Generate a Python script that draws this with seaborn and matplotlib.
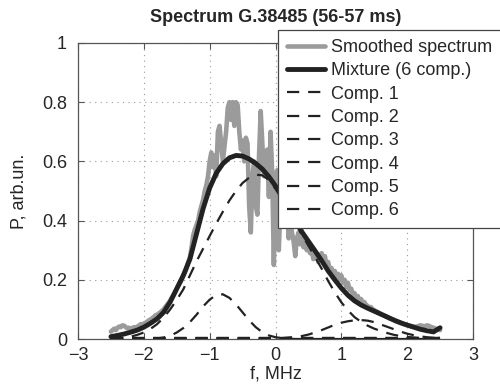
import numpy as np
import pandas as pd
import matplotlib
matplotlib.use("Agg")
import matplotlib.pyplot as plt
import seaborn as sns

# ---------------- data ----------------
# smoothed spectrum, sampled every 0.025 MHz from -2.5 to 2.5
p_spec = [
    0.025, 0.030, 0.035, 0.030, 0.038, 0.042, 0.040, 0.046,
    0.045, 0.040, 0.036, 0.038, 0.035, 0.037, 0.040, 0.038,
    0.042, 0.045, 0.050, 0.048, 0.052, 0.055, 0.058, 0.063,
    0.066, 0.070, 0.074, 0.080, 0.082, 0.086, 0.090, 0.095,
    0.100, 0.108, 0.115, 0.122, 0.130, 0.140, 0.148, 0.158,
    0.170, 0.180, 0.190, 0.200, 0.215, 0.225, 0.240, 0.260,
    0.275, 0.310, 0.350, 0.370, 0.385, 0.400, 0.430, 0.450,
    0.470, 0.500, 0.520, 0.550, 0.600, 0.630, 0.580, 0.620,
    0.550, 0.700, 0.720, 0.660, 0.600, 0.650, 0.700, 0.780,
    0.800, 0.740, 0.800, 0.720, 0.800, 0.790, 0.700, 0.640,
    0.670, 0.600, 0.680, 0.660, 0.450, 0.360, 0.550, 0.600,
    0.450, 0.420, 0.620, 0.770, 0.660, 0.550, 0.600, 0.640,
    0.480, 0.700, 0.560, 0.250, 0.530, 0.570, 0.300, 0.450,
    0.400, 0.500, 0.380, 0.450, 0.340, 0.400, 0.360, 0.330,
    0.280, 0.340, 0.360, 0.320, 0.340, 0.310, 0.330, 0.300,
    0.320, 0.290, 0.300, 0.270, 0.280, 0.290, 0.260, 0.280,
    0.290, 0.270, 0.280, 0.250, 0.260, 0.230, 0.240, 0.220,
    0.230, 0.210, 0.220, 0.200, 0.215, 0.190, 0.200, 0.175,
    0.190, 0.165, 0.170, 0.150, 0.155, 0.140, 0.145, 0.130,
    0.135, 0.120, 0.125, 0.115, 0.112, 0.105, 0.108, 0.100,
    0.098, 0.094, 0.092, 0.088, 0.085, 0.082, 0.080, 0.076,
    0.074, 0.070, 0.068, 0.066, 0.063, 0.060, 0.058, 0.056,
    0.054, 0.052, 0.050, 0.049, 0.047, 0.046, 0.044, 0.043,
    0.042, 0.041, 0.042, 0.044, 0.046, 0.045, 0.043, 0.044,
    0.046, 0.045, 0.042, 0.040, 0.038, 0.036, 0.034, 0.032,
    0.030,
]
f_spec = np.linspace(-2.5, 2.5, len(p_spec))

# model curves, sampled every 0.1 MHz from -2.5 to 2.5
mixture = [
    0.008, 0.012, 0.017, 0.023, 0.030, 0.040, 0.053, 0.068,
    0.090, 0.125, 0.170, 0.215, 0.270, 0.355, 0.440, 0.510,
    0.560, 0.592, 0.612, 0.620, 0.618, 0.608, 0.593, 0.574,
    0.548, 0.517, 0.487, 0.452, 0.410, 0.362, 0.330, 0.298,
    0.265, 0.230, 0.200, 0.172, 0.148, 0.129, 0.115, 0.104,
    0.094, 0.084, 0.074, 0.064, 0.055, 0.047, 0.040, 0.033,
    0.028, 0.024, 0.038,
]
comp1 = [
    0.001, 0.002, 0.004, 0.008, 0.014, 0.022, 0.034, 0.050,
    0.072, 0.100, 0.132, 0.168, 0.215, 0.262, 0.305, 0.348,
    0.390, 0.430, 0.468, 0.500, 0.527, 0.545, 0.555, 0.553,
    0.537, 0.507, 0.472, 0.432, 0.392, 0.352, 0.315, 0.277,
    0.238, 0.196, 0.158, 0.124, 0.097, 0.074, 0.058, 0.045,
    0.035, 0.027, 0.020, 0.014, 0.010, 0.007, 0.005, 0.003,
    0.002, 0.001, 0.001,
]
comp2 = [
    0.000, 0.000, 0.000, 0.000, 0.000, 0.001, 0.001, 0.002,
    0.005, 0.011, 0.022, 0.037, 0.057, 0.082, 0.110, 0.133,
    0.149, 0.151, 0.139, 0.117, 0.090, 0.063, 0.040, 0.023,
    0.012, 0.006, 0.003, 0.001, 0.000, 0.000, 0.000, 0.000,
    0.000, 0.000, 0.000, 0.000, 0.000, 0.000, 0.000, 0.000,
    0.000, 0.000, 0.000, 0.000, 0.000, 0.000, 0.000, 0.000,
    0.000, 0.000, 0.000,
]
comp3 = [
    0.000, 0.000, 0.000, 0.000, 0.000, 0.000, 0.000, 0.000,
    0.000, 0.000, 0.000, 0.000, 0.000, 0.000, 0.000, 0.000,
    0.000, 0.000, 0.000, 0.000, 0.000, 0.000, 0.001, 0.001,
    0.001, 0.002, 0.003, 0.005, 0.007, 0.010, 0.015, 0.022,
    0.030, 0.039, 0.048, 0.055, 0.060, 0.063, 0.064, 0.062,
    0.057, 0.049, 0.041, 0.033, 0.025, 0.018, 0.013, 0.009,
    0.006, 0.004, 0.003,
]
comp4 = [
    0.003, 0.003, 0.003, 0.003, 0.003, 0.003, 0.003, 0.003,
    0.003, 0.003, 0.003, 0.003, 0.003, 0.003, 0.003, 0.003,
    0.003, 0.003, 0.003, 0.003, 0.003, 0.003, 0.003, 0.003,
    0.003, 0.003, 0.003, 0.003, 0.003, 0.003, 0.003, 0.003,
    0.003, 0.003, 0.003, 0.003, 0.003, 0.003, 0.003, 0.003,
    0.003, 0.003, 0.003, 0.003, 0.003, 0.003, 0.003, 0.003,
    0.003, 0.003, 0.003,
]
comp5 = [
    0.002, 0.002, 0.002, 0.002, 0.002, 0.002, 0.002, 0.002,
    0.002, 0.002, 0.002, 0.002, 0.002, 0.002, 0.002, 0.002,
    0.002, 0.002, 0.002, 0.002, 0.002, 0.002, 0.002, 0.002,
    0.002, 0.002, 0.002, 0.002, 0.002, 0.002, 0.002, 0.002,
    0.002, 0.002, 0.002, 0.002, 0.002, 0.002, 0.002, 0.002,
    0.002, 0.002, 0.002, 0.002, 0.002, 0.002, 0.002, 0.002,
    0.002, 0.002, 0.002,
]
comp6 = [
    0.001, 0.001, 0.001, 0.001, 0.001, 0.001, 0.001, 0.001,
    0.001, 0.001, 0.001, 0.001, 0.001, 0.001, 0.001, 0.001,
    0.001, 0.001, 0.001, 0.001, 0.001, 0.001, 0.001, 0.001,
    0.001, 0.001, 0.001, 0.001, 0.001, 0.001, 0.001, 0.001,
    0.001, 0.001, 0.001, 0.001, 0.001, 0.001, 0.001, 0.001,
    0.001, 0.001, 0.001, 0.001, 0.001, 0.001, 0.001, 0.001,
    0.001, 0.002, 0.004,
]
f_model = np.linspace(-2.5, 2.5, len(mixture))

comp_names = ["Comp. 1", "Comp. 2", "Comp. 3", "Comp. 4", "Comp. 5", "Comp. 6"]
comps = [comp1, comp2, comp3, comp4, comp5, comp6]

x_ticks = [-3, -2, -1, 0, 1, 2, 3]
y_ticks = [0, 0.2, 0.4, 0.6, 0.8, 1.0]
y_tick_labels = ["0", "0.2", "0.4", "0.6", "0.8", "1"]

title = "Spectrum G.38485 (56-57 ms)"
xlabel = "f, MHz"
ylabel = "P, arb.un."

# ---------------- style ----------------
sns.set_theme(style="white")
plt.rcParams["font.family"] = ["Liberation Sans", "DejaVu Sans"]
plt.rcParams["axes.unicode_minus"] = True

fig = plt.figure(figsize=(5.0, 3.87), dpi=100)
ax = fig.add_axes([0.156, 0.124, 0.79, 0.765])

text_col = "#262626"
spec_df = pd.DataFrame({"f": f_spec, "P": p_spec})
sns.lineplot(data=spec_df, x="f", y="P", ax=ax, color="#9b9b9b",
             linewidth=3.3, label="Smoothed spectrum", zorder=2)
mix_df = pd.DataFrame({"f": f_model, "P": mixture})
sns.lineplot(data=mix_df, x="f", y="P", ax=ax, color="#222222",
             linewidth=3.5, label="Mixture (6 comp.)", zorder=3)
for name, vals in zip(comp_names, comps):
    cdf = pd.DataFrame({"f": f_model, "P": vals})
    sns.lineplot(data=cdf, x="f", y="P", ax=ax, color="#222222",
                 linewidth=1.6, linestyle="--", label=name, zorder=4)
for ln in ax.lines[2:]:
    ln.set_dashes((5.5, 4.0))

ax.set_xlim(-3, 3)
ax.set_ylim(0, 1)
ax.set_xticks(x_ticks)
ax.set_yticks(y_ticks)
ax.set_yticklabels(y_tick_labels)
ax.grid(True, linestyle=(0, (1, 4)), color="#9a9a9a", linewidth=0.8)
for s in ax.spines.values():
    s.set_visible(True)
    s.set_color("#555555")
    s.set_linewidth(0.9)
ax.tick_params(direction="in", length=4, width=0.8, color="#555555",
               labelsize=13, labelcolor=text_col, top=True, right=True,
               bottom=True, left=True)
ax.tick_params(axis="x", pad=6)
ax.tick_params(axis="y", pad=8)
ax.set_xlabel(xlabel, fontsize=13, color=text_col, labelpad=1)
ax.set_ylabel(ylabel, fontsize=13, color=text_col, labelpad=10)
ax.set_title(title, fontsize=13, fontweight="bold", color=text_col, pad=15)

handles, labels = ax.get_legend_handles_labels()
leg = ax.legend(handles, labels, loc="upper left",
                bbox_to_anchor=(278 / 500, 1 - 30 / 387, 0.5, 0.0),
                mode="expand",
                bbox_transform=fig.transFigure, borderaxespad=0,
                fontsize=13, frameon=True, fancybox=False, framealpha=1,
                edgecolor="#444444", handlelength=2.1, handletextpad=0.35,
                labelspacing=0.35, borderpad=0.5)
leg.get_frame().set_linewidth(0.9)
for t in leg.get_texts():
    t.set_color(text_col)
leg.set_zorder(10)

fig.savefig("out.png", dpi=100)
